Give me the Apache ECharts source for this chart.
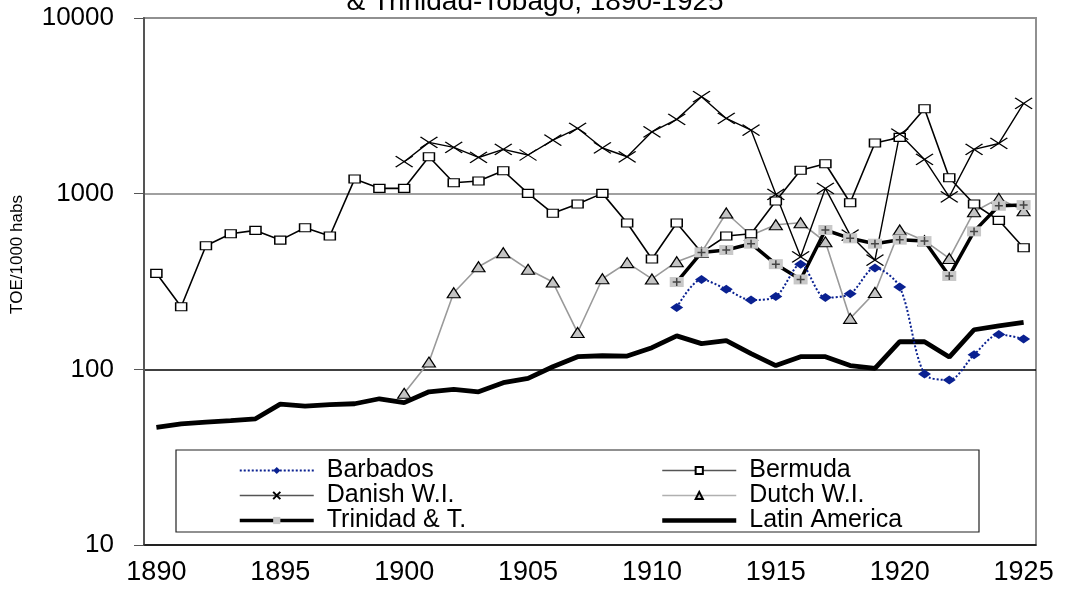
<!DOCTYPE html>
<html>
<head>
<meta charset="utf-8">
<script src="https://cdn.jsdelivr.net/npm/echarts@6/dist/echarts.min.js"></script>
<style>
  html, body { margin: 0; padding: 0; background: #fff; }
  #chart { width: 1070px; height: 595px; }
</style>
</head>
<body>
<div id="chart"></div>
<script>
const years = ['1890', '1891', '1892', '1893', '1894', '1895', '1896', '1897', '1898', '1899',
  '1900', '1901', '1902', '1903', '1904', '1905', '1906', '1907', '1908', '1909',
  '1910', '1911', '1912', '1913', '1914', '1915', '1916', '1917', '1918', '1919',
  '1920', '1921', '1922', '1923', '1924', '1925']

const barbados = [null, null, null, null, null, null, null, null, null, null,
  null, null, null, null, null, null, null, null, null, null,
  null, 225, 325, 286, 248, 260, 397, 256, 269, 378,
  294, 94, 87, 121, 158, 149]

const bermuda = [352, 227, 505, 591, 618, 544, 640, 574, 1211, 1072,
  1072, 1622, 1153, 1180, 1350, 1004, 773, 873, 1004, 681,
  425, 681, 463, 574, 591, 908, 1358, 1480, 888, 1942,
  2090, 3041, 1231, 873, 705, 492]

const danish = [null, null, null, null, null, null, null, null, null, null,
  1520, 1958, 1834, 1607, 1786, 1660, 2017, 2355, 1820, 1622,
  2250, 2648, 3565, 2681, 2302, 991, 437, 1072, 581, 419,
  2183, 1567, 960, 1786, 1931, 3266]

const dutch = [null, null, null, null, null, null, null, null, null, null,
  73, 110, 273, 384, 461, 371, 314, 162, 328, 405,
  327, 410, 463, 776, 580, 665, 683, 532, 195, 274,
  621, 540, 428, 789, 940, 800]

const trinidad = [null, null, null, null, null, null, null, null, null, null,
  null, null, null, null, null, null, null, null, null, null,
  null, 314, 463, 478, 519, 397, 325, 621, 557, 519,
  547, 537, 340, 610, 853, 861]

const latinAmerica = [46.8, 48.9, 50.1, 51.0, 52.3, 63.4, 61.8, 62.9, 63.7, 68.0,
  64.6, 74.5, 76.9, 74.5, 83.9, 88.9, 103.5, 118, 119.5, 119,
  132.8, 155, 140, 145.5, 123, 105, 118, 118, 105, 101.4,
  143.6, 143.6, 117.5, 168, 177, 185]

const font = '"Liberation Sans", Arial, sans-serif'
const clear = 'rgba(0,0,0,0)'

const chart = echarts.init(document.getElementById('chart'))

const legendBase = {
  orient: 'vertical',
  top: 453,
  itemWidth: 74,
  itemHeight: 9,
  itemGap: 0,
  selectedMode: false,
  textStyle: {
    fontFamily: font,
    fontSize: 25,
    lineHeight: 25,
    color: '#000',
    padding: [0, 0, 0, 8]
  }
}

const option = {
  animation: false,
  backgroundColor: '#fff',
  title: {
    text: '& Trinidad-Tobago, 1890-1925',
    left: 'center',
    top: -17,
    textStyle: { fontFamily: font, fontSize: 28, fontWeight: 'normal', color: '#000' }
  },
  grid: {
    left: 144,
    right: 34,
    top: 18,
    bottom: 50,
    show: true,
    borderColor: '#909090',
    borderWidth: 2,
    backgroundColor: clear
  },
  graphic: [
    {
      type: 'rect',
      z: 3,
      shape: { x: 176, y: 450, width: 803, height: 82 },
      style: { fill: '#fff', stroke: '#222', lineWidth: 1.2 }
    }
  ],
  legend: [
    Object.assign({}, legendBase, {
      left: 233,
      data: [
        { name: 'Barbados' },
        { name: 'Danish W.I.', lineStyle: { color: '#555', width: 1.6 } },
        { name: 'Trinidad & T.', lineStyle: { color: '#000', width: 3.5 } }
      ]
    }),
    Object.assign({}, legendBase, {
      left: 655,
      data: [
        { name: 'Bermuda', lineStyle: { color: '#555', width: 1.6 } },
        { name: 'Dutch W.I.', lineStyle: { color: '#b0b0b0', width: 1.6 } },
        { name: 'Latin America', lineStyle: { color: '#000', width: 4.5 }, itemStyle: { opacity: 0 } }
      ]
    })
  ],
  xAxis: {
    type: 'category',
    data: years,
    boundaryGap: true,
    axisLine: { lineStyle: { color: '#222', width: 1.5 } },
    axisTick: { interval: 0, length: 8, lineStyle: { color: '#222' } },
    axisLabel: {
      interval: 4,
      margin: 14,
      fontFamily: font,
      fontSize: 27,
      color: '#000'
    },
    splitLine: { show: false }
  },
  yAxis: {
    type: 'log',
    logBase: 10,
    min: 10,
    max: 10000,
    name: 'TOE/1000 habs',
    nameLocation: 'middle',
    nameRotate: 90,
    nameGap: 118,
    nameTextStyle: { fontFamily: font, fontSize: 17, color: '#000', padding: [0, 0, 0, 54] },
    axisLine: { show: true, lineStyle: { color: '#555', width: 2 } },
    axisTick: { show: true, length: 10, lineStyle: { color: '#555' } },
    minorTick: { show: false },
    axisLabel: {
      margin: 30,
      fontFamily: font,
      fontSize: 26,
      color: '#000',
      formatter: function (v) { return String(v) }
    },
    splitLine: {
      show: true,
      lineStyle: { color: ['#000', '#000', '#808080', '#909090'], width: 1.5 }
    }
  },
  series: [
    {
      name: 'Latin America',
      type: 'line',
      data: latinAmerica,
      symbol: 'none',
      lineStyle: { color: '#000', width: 4.8 },
      itemStyle: { color: '#000' }
    },
    {
      name: 'Dutch W.I.',
      type: 'line',
      data: dutch,
      symbol: 'triangle',
      symbolSize: [13, 10],
      showAllSymbol: true,
      lineStyle: { color: '#9a9a9a', width: 1.6 },
      itemStyle: { color: '#c4c4c4', borderColor: '#000', borderWidth: 1.2 }
    },
    {
      name: 'Bermuda',
      type: 'line',
      data: bermuda,
      symbol: 'rect',
      symbolSize: [11, 8],
      showAllSymbol: true,
      lineStyle: { color: '#000', width: 1.6 },
      itemStyle: { color: '#fff', borderColor: '#000', borderWidth: 1.3 }
    },
    {
      name: 'Danish W.I.',
      type: 'line',
      data: danish,
      symbol: 'path://M0,0L20,12M20,0L0,12',
      symbolSize: [17, 11],
      showAllSymbol: true,
      lineStyle: { color: '#000', width: 1.4 },
      itemStyle: { color: clear, borderColor: '#000', borderWidth: 1.3 }
    },
    {
      name: 'Trinidad & T.',
      type: 'line',
      data: trinidad,
      symbol: 'rect',
      symbolSize: [14, 10],
      showAllSymbol: true,
      lineStyle: { color: '#000', width: 3.5 },
      itemStyle: { color: '#c8c8c8', borderWidth: 0 }
    },
    {
      // plus signs on the Trinidad squares
      name: 'Trinidad & T.',
      type: 'line',
      data: trinidad,
      symbol: 'path://M5,0L5,10M0,5L10,5',
      symbolSize: 8,
      showAllSymbol: true,
      lineStyle: { width: 0, opacity: 0 },
      itemStyle: { color: clear, borderColor: '#444', borderWidth: 1.5 },
      z: 3
    },
    {
      name: 'Barbados',
      type: 'line',
      data: barbados,
      smooth: 0.3,
      symbol: 'diamond',
      symbolSize: [13, 9],
      showAllSymbol: true,
      lineStyle: { color: '#0a2191', width: 2, type: 'dotted' },
      itemStyle: { color: '#0a2191' },
      z: 4
    }
  ]
}

chart.setOption(option)
window.addEventListener('resize', function () {
  chart.resize()
})
</script>
</body>
</html>
